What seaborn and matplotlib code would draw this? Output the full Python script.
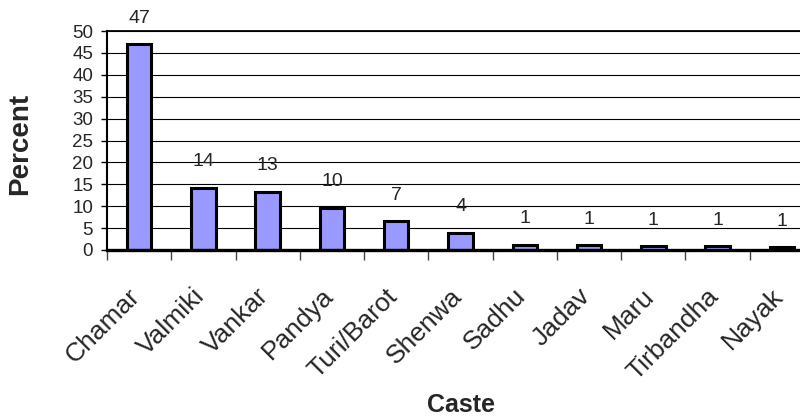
import matplotlib
matplotlib.use("Agg")
import matplotlib.pyplot as plt
from matplotlib.transforms import ScaledTranslation
import seaborn as sns
import pandas as pd
import numpy as np

# Share of respondents by caste (percent)
castes = ["Chamar", "Valmiki", "Vankar", "Pandya", "Turi/Barot", "Shenwa",
          "Sadhu", "Jadav", "Maru", "Tirbandha", "Nayak"]
percent = [47.0, 14.2, 13.3, 9.6, 6.6, 3.9, 1.2, 1.1, 0.9, 0.8, 0.6]
y_ticks = [0, 5, 10, 15, 20, 25, 30, 35, 40, 45, 50]

df = pd.DataFrame({"Caste": castes, "Percent": percent})

sns.set_style("white")
plt.rcParams["font.family"] = ["Liberation Sans", "DejaVu Sans"]

fig = plt.figure(figsize=(8.0, 4.17), dpi=100)
W, H = 800, 417
ax = fig.add_axes([107 / W, (H - 250) / H, 707 / W, 219 / H])

sns.barplot(data=df, x="Caste", y="Percent", ax=ax, color="#9999FF",
            saturation=1, edgecolor="black", linewidth=2.2, width=0.38)

ax.set_xlim(-0.5, len(castes) - 0.5)
ax.set_ylim(0, 50)
ax.set_yticks(y_ticks)
ax.yaxis.grid(True, color="black", linewidth=0.8)
ax.set_axisbelow(True)

# value labels above each bar
for i, v in enumerate(percent):
    ax.annotate(f"{v:.0f}", (i, v), xytext=(0, 26), textcoords="offset pixels",
                ha="center", va="center", fontsize=14)

# category boundaries carry the tick marks, labels sit at the bar centres
ax.set_xticks(np.arange(len(castes)))
ax.set_xticklabels(castes, rotation=45, ha="right", rotation_mode="anchor",
                   fontsize=19)
ax.set_xticks(np.arange(len(castes) + 1) - 0.5, minor=True)
ax.tick_params(axis="x", which="major", length=0, pad=24.5)
ax.tick_params(axis="x", which="minor", length=7, width=1, color="#444444",
               direction="out", bottom=True)
ax.tick_params(axis="y", length=4, width=1, color="black", direction="out",
               left=True, pad=6, labelsize=13.5)
for lab in ax.get_xticklabels():
    lab.set_transform(lab.get_transform()
                      + ScaledTranslation(-8 / 72, 0, fig.dpi_scale_trans))

for side in ["left", "top", "right"]:
    ax.spines[side].set_color("black")
ax.spines["left"].set_linewidth(1.5)
ax.spines["top"].set_linewidth(1.3)
ax.spines["right"].set_linewidth(1.3)
ax.spines["bottom"].set_color("black")
ax.spines["bottom"].set_linewidth(2.4)

ax.set_xlabel("Caste", fontsize=18, fontweight="bold")
ax.set_ylabel("Percent", fontsize=20, fontweight="bold")
ax.xaxis.set_label_coords(0.5, (250 - 393) / 219)
ax.yaxis.set_label_coords((33 - 107) / 707, (250 - 144) / 219)

fig.savefig("out.png", dpi=100)
